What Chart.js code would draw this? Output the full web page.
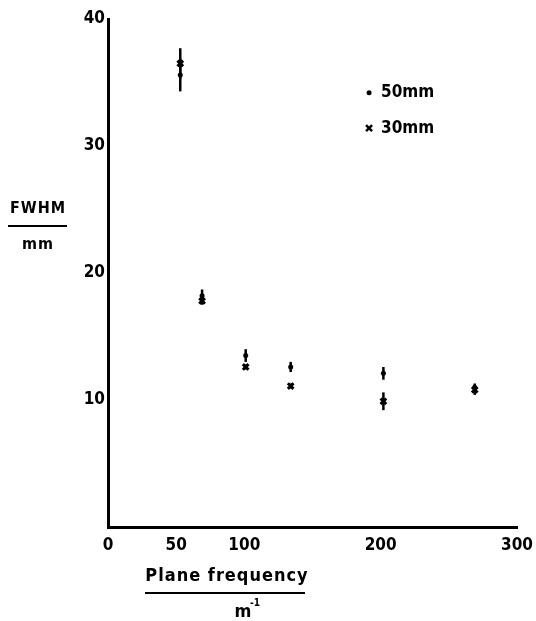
<!DOCTYPE html>
<html>
<head>
<meta charset="utf-8">
<script src="https://cdn.jsdelivr.net/npm/chart.js@4/dist/chart.umd.min.js"></script>
<style>
  html, body { margin: 0; padding: 0; background: #fff; }
  canvas { display: block; }
</style>
</head>
<body>
<canvas id="fwhmChart" width="536" height="621"></canvas>
<script>
// plane frequency (m^-1) for each measurement
const planeFreq = [53, 69, 101, 134, 202, 269];

// FWHM (mm) and error half-widths, per collimator
const fwhm50 = [35.6, 18.2, 13.5, 12.6, 12.1, 11.0];
const err50 = [1.3, 0.5, 0.5, 0.4, 0.5, 0.3];
const fwhm30 = [36.5, 17.8, 12.6, 11.1, 9.9, 10.8];
const err30 = [1.2, 0.3, 0.2, 0.2, 0.7, 0.4];

const xTicks = [0, 50, 100, 200, 300];
const yTicks = [10, 20, 30, 40];

const seriesLabels = ['50mm', '30mm'];

const FONT = "'DejaVu Sans Condensed', 'DejaVu Sans', sans-serif";

function toPoints(xs, ys) {
  return xs.map((x, i) => ({ x: x, y: ys[i] }));
}

// vertical error bars, positioned through the chart scales
const errorBars = {
  id: 'errorBars',
  afterDatasetsDraw(chart) {
    const ctx = chart.ctx;
    const xs = chart.scales.x, ys = chart.scales.y;
    const sets = [[fwhm50, err50], [fwhm30, err30]];
    ctx.save();
    ctx.strokeStyle = '#000';
    ctx.lineWidth = 2.5;
    sets.forEach(([vals, errs]) => {
      vals.forEach((v, i) => {
        const px = xs.getPixelForValue(planeFreq[i]);
        ctx.beginPath();
        ctx.moveTo(px, ys.getPixelForValue(v - errs[i]));
        ctx.lineTo(px, ys.getPixelForValue(v + errs[i]));
        ctx.stroke();
      });
    });
    ctx.restore();
  }
};

// axis titles as fractions plus the in-plot key
const decorations = {
  id: 'decorations',
  afterDraw(chart) {
    const ctx = chart.ctx;
    const xs = chart.scales.x, ys = chart.scales.y;
    ctx.save();
    ctx.fillStyle = '#000';
    ctx.strokeStyle = '#000';
    ctx.textBaseline = 'middle';
    ctx.textAlign = 'center';

    // y title: FWHM / mm
    ctx.font = 'bold 16px ' + FONT;
    ctx.letterSpacing = '1px';
    ctx.fillText('FWHM', 38, 209);
    ctx.lineWidth = 2;
    ctx.beginPath(); ctx.moveTo(8, 226); ctx.lineTo(67, 226); ctx.stroke();
    ctx.fillText('mm', 38, 245);

    // x title: Plane frequency / m^-1
    ctx.font = 'bold 18px ' + FONT;
    ctx.letterSpacing = '1px';
    ctx.fillText('Plane frequency', 227, 576);
    ctx.beginPath(); ctx.moveTo(145, 593); ctx.lineTo(305, 593); ctx.stroke();
    ctx.letterSpacing = '0px';
    ctx.fillText('m', 243, 612);
    ctx.font = 'bold 10px ' + FONT;
    ctx.fillText('-1', 255, 603);

    // key
    const kx = xs.getPixelForValue(191.5);
    const rows = [ys.getPixelForValue(34.2), ys.getPixelForValue(31.4)];
    ctx.beginPath(); ctx.arc(kx, rows[0], 2.5, 0, Math.PI * 2); ctx.fill();
    ctx.lineWidth = 2.5;
    ctx.beginPath();
    ctx.moveTo(kx - 3, rows[1] - 3); ctx.lineTo(kx + 3, rows[1] + 3);
    ctx.moveTo(kx + 3, rows[1] - 3); ctx.lineTo(kx - 3, rows[1] + 3);
    ctx.stroke();
    ctx.textAlign = 'left';
    ctx.font = 'bold 17px ' + FONT;
    ctx.fillText(seriesLabels[0], kx + 12, rows[0]);
    ctx.fillText(seriesLabels[1], kx + 12, rows[1]);
    ctx.restore();
  }
};

const ctx = document.getElementById('fwhmChart').getContext('2d');
const chart = new Chart(ctx, {
  type: 'scatter',
  data: {
    datasets: [
      {
        label: seriesLabels[0],
        data: toPoints(planeFreq, fwhm50),
        pointStyle: 'circle',
        pointRadius: 2.5,
        backgroundColor: '#000',
        borderColor: '#000',
        borderWidth: 0
      },
      {
        label: seriesLabels[1],
        data: toPoints(planeFreq, fwhm30),
        pointStyle: 'crossRot',
        pointRadius: 4,
        backgroundColor: '#000',
        borderColor: '#000',
        borderWidth: 3
      }
    ]
  },
  options: {
    responsive: false,
    animation: false,
    layout: { padding: { top: 19, right: 19, left: 0, bottom: 0 } },
    plugins: {
      legend: { display: false },
      tooltip: { enabled: false }
    },
    scales: {
      x: {
        type: 'linear',
        min: 0,
        max: 300,
        afterBuildTicks: scale => { scale.ticks = xTicks.map(v => ({ value: v })); },
        afterFit: scale => {
          scale.height = 94;
          scale.paddingLeft = 0;
          scale.paddingRight = 0;
        },
        grid: { display: false, drawTicks: false },
        border: { display: true, color: '#000', width: 3 },
        ticks: {
          color: '#000',
          padding: 8,
          maxRotation: 0,
          font: { family: FONT, size: 17, weight: 'bold' }
        }
      },
      y: {
        type: 'linear',
        min: 0,
        max: 40,
        afterBuildTicks: scale => { scale.ticks = yTicks.map(v => ({ value: v })); },
        afterFit: scale => {
          scale.width = 108;
          scale.paddingTop = 0;
          scale.paddingBottom = 0;
        },
        grid: { display: false, drawTicks: false },
        border: { display: true, color: '#000', width: 3 },
        ticks: {
          color: '#000',
          padding: 3,
          font: { family: FONT, size: 17, weight: 'bold' }
        }
      }
    }
  },
  plugins: [errorBars, decorations]
});
</script>
</body>
</html>
